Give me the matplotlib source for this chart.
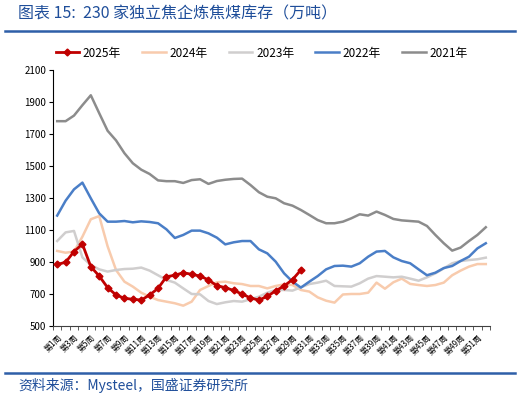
import matplotlib
matplotlib.use('Agg')
import matplotlib.pyplot as plt
from matplotlib.lines import Line2D
import numpy as np

plt.rcParams['font.family'] = ['Noto Sans CJK SC', 'DejaVu Sans']

weeks = list(range(1, 53))
week_labels = [f'第{w}周' if w % 2 == 1 else '' for w in weeks]

y2021 = [1780, 1780, 1815, 1880, 1942, 1830, 1720, 1660, 1580, 1517, 1477, 1450, 1410,
         1405, 1405, 1394, 1412, 1417, 1388, 1406, 1414, 1419, 1421, 1381, 1336, 1308,
         1298, 1267, 1252, 1225, 1194, 1162, 1142, 1142, 1152, 1173, 1198, 1190, 1215,
         1194, 1169, 1160, 1156, 1152, 1125, 1069, 1017, 971, 990, 1031, 1069, 1117]
y2022 = [1190, 1283, 1354, 1396, 1298, 1204, 1152, 1152, 1156, 1148, 1154, 1150, 1142,
         1104, 1050, 1069, 1096, 1096, 1079, 1052, 1010, 1023, 1031, 1031, 979, 954,
         902, 829, 777, 740, 777, 812, 854, 875, 877, 871, 892, 933, 965, 969,
         929, 906, 892, 854, 817, 833, 862, 875, 906, 933, 985, 1017]
y2023 = [1031, 1085, 1094, 929, 881, 854, 840, 850, 856, 858, 865, 846, 817,
         788, 771, 735, 700, 698, 656, 637, 648, 656, 652, 667, 683, 708,
         725, 725, 721, 742, 762, 771, 783, 750, 748, 746, 767, 796, 812, 808,
         804, 808, 796, 783, 804, 829, 860, 892, 906, 912, 917, 927]
y2024 = [969, 958, 965, 1058, 1167, 1187, 998, 850, 777, 746, 708, 683, 662,
         652, 642, 627, 652, 725, 750, 773, 777, 767, 762, 750, 750, 735,
         750, 760, 756, 725, 715, 679, 658, 646, 697, 700, 700, 708, 771, 733,
         773, 796, 763, 756, 750, 756, 771, 817, 846, 871, 887, 887]
y2025 = [885, 898, 965, 1012, 871, 812, 740, 694, 673, 667, 662, 694, 735,
         808, 817, 833, 823, 812, 788, 752, 740, 722, 700, 675, 662, 685,
         720, 750, 790, 850]

fig = plt.figure(figsize=(5.2, 3.99), dpi=100)
ax = fig.add_axes([0.1019, 0.1830, 0.8404, 0.6416])

ax.plot(weeks, y2024, color='#F8CBAD', lw=1.8, zorder=2)
ax.plot(weeks, y2023, color='#D0CECE', lw=1.8, zorder=2)
ax.plot(weeks, y2022, color='#4A7EC7', lw=1.8, zorder=3)
ax.plot(weeks, y2021, color='#8C8C8C', lw=1.8, zorder=3)
ax.plot(weeks[:len(y2025)], y2025, color='#C00000', lw=2, marker='D', ms=3.5, zorder=4)

ax.set_xlim(0.5, 52.5)
ax.set_ylim(500, 2100)
ax.set_yticks(range(500, 2101, 200))
ax.tick_params(axis='y', labelsize=7, length=3, direction='out', pad=2)
ax.set_xticks(weeks)
ax.set_xticklabels(week_labels, rotation=45, ha='right', va='top', fontsize=5.8,
                   rotation_mode='anchor')
ax.tick_params(axis='x', which='major', length=0, pad=5)
ax.set_xticks(np.arange(0.5, 53, 1), minor=True)
ax.tick_params(axis='x', which='minor', length=3, direction='out', color='#404040')
for s in ['top', 'right']:
    ax.spines[s].set_visible(False)
ax.spines['left'].set_color('black')
ax.spines['bottom'].set_color('#404040')

handles = [
    Line2D([], [], color='#C00000', lw=2, marker='D', ms=3.5),
    Line2D([], [], color='#F8CBAD', lw=1.8),
    Line2D([], [], color='#D0CECE', lw=1.8),
    Line2D([], [], color='#4A7EC7', lw=1.8),
    Line2D([], [], color='#8C8C8C', lw=1.8),
]
fig.legend(handles, ['2025年', '2024年', '2023年', '2022年', '2021年'],
           loc='center', bbox_to_anchor=(0.503, 0.867), ncol=5, frameon=False,
           fontsize=8.5, handlelength=2.0, handletextpad=0.3, columnspacing=1.8)

title_color = '#1F4E9A'
fig.text(0.035, 0.965, '图表 15:  230 家独立焦企炼焦煤库存（万吨）', fontsize=11.5,
         color=title_color, style='italic', ha='left', va='center')
fig.add_artist(Line2D([0.01, 0.99], [0.922, 0.922], color='#2E5FA8', lw=1.8))
fig.add_artist(Line2D([0.01, 0.99], [0.065, 0.065], color='#2E5FA8', lw=1.8))
fig.text(0.035, 0.035, '资料来源：Mysteel，国盛证券研究所', fontsize=10,
         color=title_color, style='italic', ha='left', va='center')

fig.savefig('out.png', dpi=100)
